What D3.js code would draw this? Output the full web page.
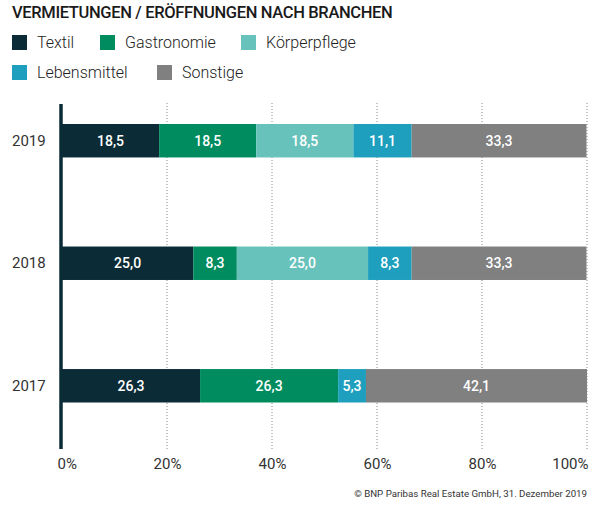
<!DOCTYPE html>
<html>
<head>
<meta charset="utf-8">
<script src="https://cdn.jsdelivr.net/npm/d3@7"></script>
<style>
  body { margin: 0; background: #fff; }
  svg text { font-family: "Roboto", "Noto Sans", sans-serif; }
</style>
</head>
<body>
<div id="chart"></div>
<script>
// data
const years = ["2019", "2018", "2017"];
const branches = ["Textil", "Gastronomie", "Körperpflege", "Lebensmittel", "Sonstige"];
const textil       = [18.5, 25.0, 26.3];
const gastronomie  = [18.5, 8.3, 26.3];
const koerperpflege = [18.5, 25.0, 0];
const lebensmittel = [11.1, 8.3, 5.3];
const sonstige     = [33.3, 33.3, 42.1];
const xTicks = [0, 20, 40, 60, 80, 100];
const colors = ["#0b2c37", "#008c5f", "#67c2bb", "#1e9fbd", "#808080"];

const width = 600, height = 518;
const svg = d3.select("#chart").append("svg")
    .attr("width", width)
    .attr("height", height);

// rows for stacking
const rows = years.map((y, i) => ({
    year: y,
    Textil: textil[i],
    Gastronomie: gastronomie[i],
    "Körperpflege": koerperpflege[i],
    Lebensmittel: lebensmittel[i],
    Sonstige: sonstige[i]
}));
const series = d3.stack().keys(branches)(rows);

const x = d3.scaleLinear().domain([0, 100]).range([62, 587]);
const y = d3.scaleBand().domain(years).range([124, 402.5]).paddingInner(0.727);

// title
svg.append("text")
    .attr("x", 12).attr("y", 18)
    .style("font-size", "16.5px")
    .style("font-weight", 500)
    .style("letter-spacing", "-0.35px")
    .style("fill", "#1a1a1a")
    .text("VERMIETUNGEN / ERÖFFNUNGEN NACH BRANCHEN");

// legend
const legendPos = [[12, 42], [100, 42], [241, 42], [12, 72], [157, 72]];
const legend = svg.append("g").attr("class", "legend");
branches.forEach((b, i) => {
    const g = legend.append("g").attr("transform", `translate(${legendPos[i][0]},${legendPos[i][1]})`);
    g.append("rect").attr("x", 0).attr("y", -7).attr("width", 15).attr("height", 15).style("fill", colors[i]);
    g.append("text").attr("x", 25).attr("y", 6)
        .style("font-size", "16px").style("font-weight", 300).style("fill", "#222").text(b);
});

// gridlines
svg.append("g").selectAll("line")
    .data(xTicks.slice(1))
    .enter().append("line")
    .attr("x1", d => x(d)).attr("x2", d => x(d))
    .attr("y1", 103).attr("y2", 449)
    .style("stroke", "#888")
    .style("stroke-width", 1)
    .style("stroke-dasharray", "1,2");

// bars
svg.append("g").selectAll("g")
    .data(series)
    .enter().append("g")
    .style("fill", (d, i) => colors[i])
    .selectAll("rect")
    .data(d => d)
    .enter().append("rect")
    .attr("x", d => x(d[0]))
    .attr("y", d => y(d.data.year))
    .attr("width", d => x(d[1]) - x(d[0]))
    .attr("height", y.bandwidth());

// value labels
const fmt = v => v.toFixed(1).replace(".", ",");
series.forEach(s => {
    svg.append("g").selectAll("text")
        .data(s.filter(d => d[1] - d[0] > 0))
        .enter().append("text")
        .attr("x", d => (x(d[0]) + x(d[1])) / 2)
        .attr("y", d => y(d.data.year) + y.bandwidth() / 2 + 5)
        .attr("text-anchor", "middle")
        .style("font-size", "14px")
        .style("font-weight", 500)
        .style("fill", "#fff")
        .text(d => fmt(d[1] - d[0]));
});

// y axis line
svg.append("line")
    .attr("x1", 61).attr("x2", 61)
    .attr("y1", 104).attr("y2", 449)
    .style("stroke", "#0b2c37")
    .style("stroke-width", 3.5);

// year labels
svg.append("g").selectAll("text")
    .data(years)
    .enter().append("text")
    .attr("x", 12)
    .attr("y", d => y(d) + y.bandwidth() / 2 + 5)
    .style("font-size", "15px")
    .style("fill", "#333")
    .text(d => d);

// x axis tick labels
const xAxis = d3.axisBottom(x).tickValues(xTicks).tickSize(0).tickFormat(d => d + "%");
const ax = svg.append("g").attr("transform", "translate(0,455)").call(xAxis);
ax.select(".domain").remove();
ax.selectAll("text")
    .style("font-size", "15px")
    .style("fill", "#333")
    .style("font-family", null)
    .attr("text-anchor", (d, i) => i === 0 ? "start" : (i === xTicks.length - 1 ? "end" : "middle"))
    .attr("dx", (d, i) => i === 0 ? -5 : (i === xTicks.length - 1 ? 1 : 0));

// footer
svg.append("text")
    .attr("x", 587).attr("y", 497)
    .attr("text-anchor", "end")
    .style("font-size", "9.7px")
    .style("font-weight", 400)
    .style("fill", "#333")
    .text("© BNP Paribas Real Estate GmbH, 31. Dezember 2019");
</script>
</body>
</html>
